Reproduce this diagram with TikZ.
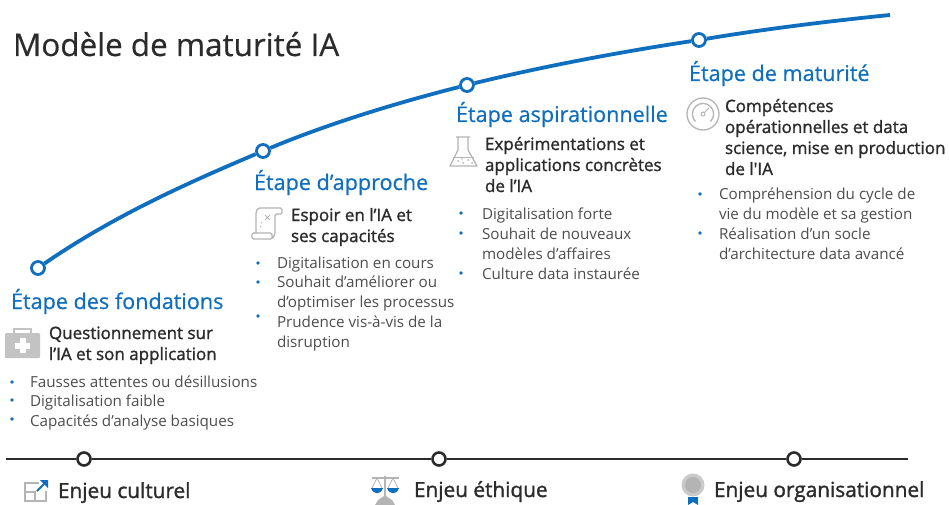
\documentclass[tikz,border=0pt]{standalone}
\usepackage{fontspec}
\setmainfont{Open Sans}
\newfontfamily\semi[FakeBold=1.4]{Open Sans}
\newfontfamily\lite[FakeBold=0.5]{Open Sans}
\definecolor{blu}{HTML}{0F6FBE}
\definecolor{ink}{HTML}{2B2B2B}
\definecolor{body}{HTML}{4D4D4D}
\definecolor{ico}{HTML}{B4B4B4}
\tikzset{
 txt/.style={anchor=base west,inner sep=0pt,outer sep=0pt},
 ttl/.style={txt,text=ink,font=\lite\fontsize{31.4}{31.4}\selectfont},
 stage/.style={txt,text=blu,font=\lite\fontsize{21.6}{21.6}\selectfont},
 head/.style={txt,text=ink,font=\semi\fontsize{17}{17}\selectfont},
 item/.style={txt,text=body,font=\fontsize{15.2}{15.2}\selectfont},
 issue/.style={txt,text=ink,font=\semi\fontsize{20.8}{20.8}\selectfont},
 mile/.style={circle,draw=blu,line width=2.8pt,fill=white,minimum size=13pt,inner sep=0pt},
 axisdot/.style={circle,draw=ink,line width=2.6pt,fill=white,minimum size=13pt,inner sep=0pt},
 bul/.style={circle,fill=blu,minimum size=3.6pt,inner sep=0pt},
 icoline/.style={draw=ico,line width=1.3pt,fill=none},
}
\begin{document}
\begin{tikzpicture}[x=1pt,y=-1pt]
\useasboundingbox (0,0) rectangle (949,505);
% curve
\node[mile] (c1) at (38,268) {};
\node[mile] (c2) at (263,151) {};
\node[mile] (c3) at (467,85) {};
\node[mile] (c4) at (699,40) {};
\coordinate (cend) at (890,15);
\draw[blu,line width=3.8pt] (c1) .. controls (115,215) and (190,182) .. (c2);
\draw[blu,line width=3.8pt] (c2) .. controls (330,123) and (400,102) .. (c3);
\draw[blu,line width=3.8pt] (c3) .. controls (545,66) and (620,52) .. (c4);
\draw[blu,line width=3.8pt] (c4) .. controls (765,29) and (830,21) .. (cend);
% axis
\node[axisdot] (a1) at (84,459) {};
\node[axisdot] (a2) at (439,459) {};
\node[axisdot] (a3) at (794,459) {};
\coordinate (as) at (6,459);
\coordinate (ae) at (908,459);
\draw[ink,line width=1.8pt] (as) -- (a1);
\draw[ink,line width=1.8pt] (a1) -- (a2);
\draw[ink,line width=1.8pt] (a2) -- (a3);
\draw[ink,line width=1.8pt] (a3) -- (ae);
% title
\node[ttl] (title) at (13,56) {Modèle de maturité IA};
% col 1
\node[stage] (s1) at (11,309) {Étape des fondations};
\node[head] (h1a) at (49,339) {Questionnement sur};
\node[head] (h1b) at (49,360) {l’IA et son application};
\node[item] (i1a) at (30,387) {Fausses attentes ou désillusions};
\node[item] (i1b) at (30,406) {Digitalisation faible};
\node[item] (i1c) at (30,426) {Capacités d’analyse basiques};
\node[bul] (b1a) at (12,382) {};
\node[bul] (b1b) at (12,400) {};
\node[bul] (b1c) at (12,419) {};
% col 2
\node[stage] (s2) at (254,190) {Étape d’approche};
\node[head] (h2a) at (291,221) {Espoir en l’IA et};
\node[head] (h2b) at (291,242) {ses capacités};
\node[item] (i2a) at (277,268) {Digitalisation en cours};
\node[item] (i2b) at (277,287) {Souhait d’améliorer ou};
\node[item] (i2c) at (277,307) {d'optimiser les processus};
\node[item] (i2d) at (277,327) {Prudence vis-à-vis de la};
\node[item] (i2e) at (277,347) {disruption};
\node[bul] (b2a) at (258,263) {};
\node[bul] (b2b) at (258,282) {};
\node[bul] (b2c) at (258,316) {};
% col 3
\node[stage] (s3) at (456,122) {Étape aspirationnelle};
\node[head] (h3a) at (485,150) {Expérimentations et};
\node[head] (h3b) at (485,171) {applications concrètes};
\node[head] (h3c) at (485,192) {de l’IA};
\node[item] (i3a) at (482,219) {Digitalisation forte};
\node[item] (i3b) at (482,239) {Souhait de nouveaux};
\node[item] (i3c) at (482,259) {modèles d’affaires};
\node[item] (i3d) at (482,279) {Culture data instaurée};
\node[bul] (b3a) at (461,213) {};
\node[bul] (b3b) at (461,233) {};
\node[bul] (b3c) at (461,273) {};
% col 4
\node[stage] (s4) at (689,81) {Étape de maturité};
\node[head] (h4a) at (725,112) {Compétences};
\node[head] (h4b) at (725,133) {opérationnelles et data};
\node[head] (h4c) at (725,154) {science, mise en production};
\node[head] (h4d) at (725,175) {de l'IA};
\node[item] (i4a) at (719,199) {Compréhension du cycle de};
\node[item] (i4b) at (719,219) {vie du modèle et sa gestion};
\node[item] (i4c) at (719,239) {Réalisation d’un socle};
\node[item] (i4d) at (719,259) {d’architecture data avancé};
\node[bul] (b4a) at (700,194) {};
\node[bul] (b4b) at (700,233) {};
% issues
\node[issue] (e1) at (58,498) {Enjeu culturel};
\node[issue] (e2) at (414,497) {Enjeu éthique};
\node[issue] (e3) at (714,497) {Enjeu organisationnel};
% icon: first aid case
\fill[ico!80,rounded corners=1pt] (5,333) rectangle (40,358);
\draw[ico!80,line width=2pt] (14,333) -- (14,329) -- (31,329) -- (31,333);
\fill[white] (19.5,338) rectangle (25.5,353);
\fill[white] (15,342.5) rectangle (30,348.5);
% icon: scroll
\draw[icoline,rounded corners=1.5pt] (256,233) -- (256,212) -- (258,208) -- (282,208) -- (282,214) -- (275,214) -- (275,234) -- (272,239) -- (252,239) -- (252,233) -- (272,233) -- (272,239);
\draw[icoline,line width=1pt] (265,215) -- (270,220) (270,215) -- (265,220);
\draw[ico,line width=1pt,dash pattern=on 1.5pt off 2.5pt] (262,222) -- (260,229);
% icon: flask
\draw[icoline,line join=round] (456,137) -- (470,137) (458,137) -- (458,150) -- (450,166) -- (477,166) -- (468,150) -- (468,137);
\draw[ico,line width=.8pt] (453,157) -- (474,157);
\fill[ico] (458,161) circle (1pt) (463,163) circle (1pt) (468,160) circle (1pt) (472,163) circle (1pt) (462,159) circle (.8pt);
% icon: gauge
\draw[icoline] (703,114) circle (16);
\draw[icoline] (695.5,121.5) arc (135:405:10.6);
\draw[icoline,line width=1pt] (703,114) circle (2);
\draw[icoline,line width=1pt] (704.5,112.5) -- (709,108);
% icon: expand
\draw[ico,line width=1.8pt] (39,483) -- (25,483) -- (25,501) -- (46,501) -- (46,491);
\draw[ico,line width=1.5pt] (25,492) -- (35,492) -- (35,501);
\draw[blu,line width=1.8pt] (37,491) -- (46,482);
\fill[blu] (40,480) -- (48,480) -- (48,488) -- cycle;
% icon: scales
\fill[ico] (384,476) rectangle (386,497);
\draw[ico,line width=1.8pt] (372,478) -- (399,478);
\draw[ico,line width=.8pt] (377,478) -- (372,488) (377,478) -- (382,488) (393,478) -- (388,488) (393,478) -- (398,488);
\fill[blu] (371,488) .. controls (373,495) and (381,495) .. (383,488) -- cycle;
\fill[blu] (387,488) .. controls (389,495) and (397,495) .. (399,488) -- cycle;
\fill[ico] (375,505) -- (378,500) -- (384,496) -- (386,496) -- (392,500) -- (395,505) -- cycle;
% icon: medal
\fill[blu] (688,497) -- (698,497) -- (698,505) -- (693,502) -- (688,505) -- cycle;
\fill[ico!70] (693,485) circle (11.5);
\fill[ico] (693,485) circle (8);
\end{tikzpicture}
\end{document}
